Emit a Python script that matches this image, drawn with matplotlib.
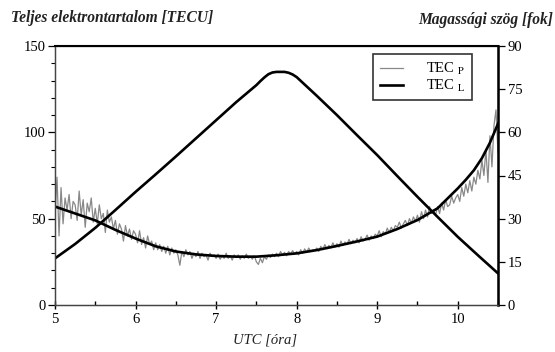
import numpy as np
import matplotlib
matplotlib.use("Agg")
import matplotlib.pyplot as plt
from matplotlib.ticker import MultipleLocator

plt.rcParams['font.family'] = ['Liberation Serif', 'DejaVu Serif']
plt.rcParams['mathtext.fontset'] = 'stix'

# smooth TEC_L (TECU)
t_l = [5.0, 5.25, 5.5, 5.75, 6.0, 6.25, 6.5, 6.75, 7.0, 7.25, 7.5, 7.75, 8.0, 8.25,
       8.5, 8.75, 9.0, 9.25, 9.5, 9.75, 10.0, 10.1, 10.2, 10.3, 10.4, 10.5]
tec_l = [57, 53, 49, 43.5, 38.5, 34, 31, 29.3, 28.4, 28, 28, 28.8, 29.9, 31.8,
         34.2, 36.8, 39.6, 44, 49.2, 56, 67.5, 72.5, 78, 85, 94, 105]

# elevation (degrees)
t_e = [5.0, 5.25, 5.5, 5.75, 6.0, 6.25, 6.5, 6.75, 7.0, 7.25, 7.5, 7.55, 7.6, 7.65,
       7.7, 7.75, 7.85, 7.9, 7.95, 8.0, 8.25, 8.5, 8.75, 9.0, 9.25, 9.5, 9.75,
       10.0, 10.25, 10.5]
elev = [16.2, 21.2, 26.8, 33.0, 39.3, 45.4, 51.6, 57.9, 64.2, 70.5, 76.4, 77.8, 79.1, 80.2,
        80.8, 81.0, 81.0, 80.7, 80.1, 79.2, 72.7, 66, 59, 52.1, 44.8, 37.6, 30.6,
        23.7, 17.3, 11.0]

# noisy TEC_P (TECU), 5.0 .. 10.5 every 0.025 h
tec_p = [52, 74, 40, 68, 47, 62, 55, 64, 50, 60,
         58, 49, 66, 52, 61, 45, 59, 54, 62, 48,
         56, 47, 58, 50, 53, 42, 55, 48, 51, 44,
         49, 41, 47, 44, 37, 46, 40, 44, 38, 43,
         41, 36, 43, 35, 39, 33, 40, 35, 37, 32,
         36, 32, 35, 31, 34, 30, 34, 29, 33, 30,
         32, 29, 23, 31, 28, 32, 29, 31, 27, 30,
         28, 31, 27, 30, 28, 29, 26, 30, 28, 29,
         27, 29.5, 26.5, 28.5, 27, 30, 27, 28.5, 26, 29,
         27.5, 29, 26.5, 28.5, 27, 29.5, 27, 28, 26.5, 28.5,
         25, 23.5, 27, 24.5, 28, 26.5, 29, 27.5, 29.5, 28,
         30, 28, 31, 29, 30.5, 28.5, 31, 29.5, 31.5, 29.5,
         31, 29, 32, 30, 32.5, 30.5, 33, 31, 32, 31.5,
         33, 31, 34, 32, 35, 32.5, 34.5, 33, 36, 33.5,
         35.5, 33.5, 37, 34.5, 36.5, 35, 38, 35.5, 37.5, 36,
         38.5, 36, 39.5, 37, 38, 40.5, 37.5, 40, 38.5, 41,
         40, 43, 39.5, 42.5, 41, 44.5, 42, 45, 43, 46,
         45, 48, 44.5, 47, 49, 46, 50, 47.5, 51, 48.5,
         52, 48, 54, 50, 55, 51, 57, 53, 55, 52,
         57, 53, 59, 55, 61, 57, 58, 63, 59, 62,
         64, 60, 68, 63, 70, 65, 72, 66, 74, 70,
         78, 73, 84, 75, 90, 71, 98, 80, 104, 113, 88]
t_p = np.linspace(5.0, 10.5, len(tec_p))

fig = plt.figure(figsize=(5.55, 3.52), dpi=100)
ax = fig.add_axes([55/555, 1-305/352, (498-55)/555, (305-46)/352])
ax2 = ax.twinx()

lp, = ax.plot(t_p, tec_p, color='#888888', lw=0.9, zorder=2)
ll, = ax.plot(t_l, tec_l, color='black', lw=1.9, zorder=3, solid_joinstyle='round')
ax2.plot(t_e, elev, color='black', lw=1.9, solid_joinstyle='round')

ax.set_xlim(5, 10.5)
ax.set_ylim(0, 150)
ax2.set_ylim(0, 90)
ax.set_xticks([5, 6, 7, 8, 9, 10])
ax.xaxis.set_minor_locator(MultipleLocator(0.5))
ax.set_yticks([0, 50, 100, 150])
ax.yaxis.set_minor_locator(MultipleLocator(10))
ax2.set_yticks([0, 15, 30, 45, 60, 75, 90])

for a in (ax, ax2):
    for s in a.spines.values():
        s.set_color('#444444')
        s.set_linewidth(0.9)
ax2.spines['right'].set_color('black')
ax2.spines['right'].set_linewidth(1.8)
ax2.spines['top'].set_color('black')
ax2.spines['top'].set_linewidth(1.5)

ax.tick_params(axis='x', which='major', direction='inout', length=6, width=1,
               labelsize=10.5, pad=3)
ax.tick_params(axis='x', which='minor', direction='in', length=3, width=1)
ax.tick_params(axis='y', which='major', direction='out', length=5, width=0.9,
               labelsize=10.5, pad=2)
ax.tick_params(axis='y', which='minor', direction='out', length=3, width=0.8)
ax2.tick_params(axis='y', which='major', direction='out', length=5, width=0.9,
                labelsize=10.5, pad=2)

leg = ax.legend([lp, ll], [r'TEC $_{\mathrm{P}}$', r'TEC $_{\mathrm{L}}$'],
                loc='upper right', bbox_to_anchor=(0.952, 0.985), fontsize=10.5,
                frameon=True, fancybox=False, handlelength=1.6, borderpad=0.45,
                labelspacing=0.05, handletextpad=1.6, borderaxespad=0.3)
leg.get_frame().set_edgecolor('black')
leg.get_frame().set_linewidth(1.2)

fig.text(11/555, 1-18/352, 'Teljes elektrontartalom [TECU]', fontsize=11.2,
         style='italic', weight='bold', ha='left', va='center', color='#222222')
fig.text(553/555, 1-20/352, 'Magassági szög [fok]', fontsize=11.2,
         style='italic', weight='bold', ha='right', va='center', color='#222222')
fig.text(265/555, 1-340/352, 'UTC [óra]', fontsize=10.5, style='italic',
         ha='center', va='center', color='#222222')

fig.savefig('out.png', dpi=100)
